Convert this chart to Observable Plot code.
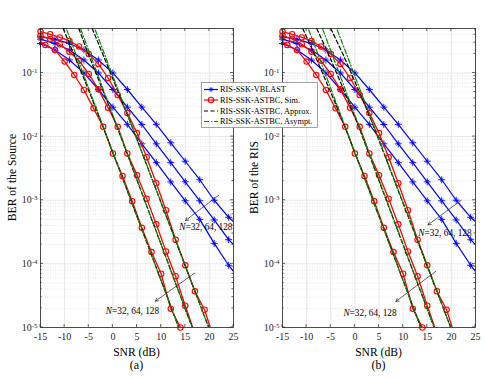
<!DOCTYPE html>
<html><head><meta charset="utf-8">
<script src="https://cdn.jsdelivr.net/npm/d3@7"></script>
<script src="https://cdn.jsdelivr.net/npm/@observablehq/plot@0.6"></script>
<style>
body{margin:0;background:#fff;}
#wrap{position:relative;width:485px;height:379px;font-family:"Liberation Serif","Times New Roman",serif;}
#wrap > svg{position:absolute;top:0;}
</style></head><body><div id="wrap"></div>
<script>
// ---- data (SNR in dB, BER) ----
const xTicks = [-15,-10,-5,0,5,10,15,20,25];
const yTicks = [1e-5,1e-4,1e-3,1e-2,1e-1];
const minorY = [2e-5,3e-5,4e-5,5e-5,6e-5,7e-5,8e-5,9e-5,2e-4,3e-4,4e-4,5e-4,6e-4,7e-4,8e-4,9e-4,2e-3,3e-3,4e-3,5e-3,6e-3,7e-3,8e-3,9e-3,2e-2,3e-2,4e-2,5e-2,6e-2,7e-2,8e-2,9e-2,0.2,0.3,0.4];

const snrBlue = [-15,-12,-9,-6,-3,0,3,6,9,12,15,18,21,24,25];
const vblastN32  = [0.37,0.34,0.29,0.23,0.16,0.10,0.055,0.029,0.0156,0.0080,0.0041,0.0021,0.0010,0.00054,0.00046];
const vblastN64  = [0.34,0.29,0.23,0.16,0.10,0.055,0.029,0.0155,0.0077,0.0039,0.00195,0.00098,0.00049,0.00024,0.00020];
const vblastN128 = [0.29,0.23,0.16,0.10,0.055,0.029,0.0156,0.0077,0.0039,0.00194,0.00098,0.00050,0.00021,0.000095,0.000076];

const snrSimN128 = [-15,-14,-12,-10,-8,-6,-4,-2,0,2,4,6,8,10,12,14];
const simN128 = [0.308,0.276,0.230,0.151,0.093,0.054,0.0278,0.01426,0.00543,0.00241,0.000964,0.000371,0.000153,0.000070,0.0000197,0.0000100];
const snrSimN64 = [-15,-13,-11,-9,-7,-5,-3,-1,1,3,5,7,9,11,13,15,17];
const simN64 = [0.386,0.343,0.283,0.216,0.155,0.0965,0.0553,0.0285,0.01426,0.00543,0.00248,0.00106,0.000419,0.000157,0.000064,0.000022,0.000008];
const snrSimN32 = [-15,-13,-11,-9,-7,-5,-3,-1,1,3,5,7,9,11,13,15,17,19,21];
const simN32 = [0.447,0.406,0.362,0.319,0.261,0.199,0.139,0.0834,0.0451,0.0234,0.01135,0.00475,0.00185,0.000697,0.00024,0.000095,0.000037,0.000019,0.0000065];

// asymptotic (straight lines)
const snrAsyN128 = [-10.3,14], asyN128 = [0.67,8.55e-6];
const snrAsyN64  = [-7.4,17],  asyN64  = [0.69,7.7e-6];
const snrAsyN32  = [-4.4,20],  asyN32  = [0.67,9.4e-6];

// approximation, source panel
const snrAppSrcN128 = [-10.3,-8,-6,-4,-2,0,14], appSrcN128 = [0.5,0.19,0.082,0.034,0.0140,0.00563,8.55e-6];
const snrAppSrcN64  = [-7.06,-5,-3,-1,1,17],    appSrcN64  = [0.5,0.19,0.080,0.033,0.0134,7.7e-6];
const snrAppSrcN32  = [-4.28,-2,0,2,4,20],      appSrcN32  = [0.5,0.19,0.081,0.034,0.0142,9.4e-6];
// approximation, RIS panel
const snrAppRisN128 = [-10.8,-8.5,-6.5,-4.5,-2.5,0,14], appRisN128 = [0.5,0.206,0.0914,0.0405,0.0172,0.00565,8.55e-6];
const snrAppRisN64  = [-7.9,-5.5,-3.5,-1.5,0.5,17],     appRisN64  = [0.5,0.201,0.0885,0.039,0.0164,7.7e-6];
const snrAppRisN32  = [-5.0,-2.5,-0.5,1.5,3.5,20],      appRisN32  = [0.5,0.20,0.0897,0.0402,0.0172,9.4e-6];

// annotations (SNR, BER)
const arrowsSrc = [{x1:21.95,y1:1.2e-3,x2:15.05,y2:4.8e-4},{x1:16.98,y1:7.2e-5,x2:8.83,y2:2.6e-5}];
const arrowsRis = [{x1:22.05,y1:1.0e-3,x2:15.16,y2:4.1e-4},{x1:16.75,y1:7.6e-5,x2:8.5,y2:2.57e-5}];
const labelEndSrc = [{x:24.8,y:3.8e-4}], labelMidSrc = [{x:4.07,y:1.8e-5}];
const labelEndRis = [{x:24.2,y:3.05e-4}], labelMidRis = [{x:3.14,y:1.7e-5}];
const annotText = "N=32, 64, 128";

const legendItems = ["RIS-SSK-VBLAST","RIS-SSK-ASTBC, Sim.","RIS-SSK-ASTBC, Approx.","RIS-SSK-ASTBC, Asympt."];

// ---- helpers ----
const rows = (xs, ys, n) => xs.map((x,i)=>({snr:x, ber:ys[i], n}));
const FONT = '"Liberation Serif","Times New Roman",serif';
const BLUE="#0000ff", RED="#ff0000", GREEN="#008a00";

const blueRows = [...rows(snrBlue,vblastN32,32),...rows(snrBlue,vblastN64,64),...rows(snrBlue,vblastN128,128)];
const simRows = [...rows(snrSimN32,simN32,32),...rows(snrSimN64,simN64,64),...rows(snrSimN128,simN128,128)];
const asyRows = [...rows(snrAsyN32,asyN32,32),...rows(snrAsyN64,asyN64,64),...rows(snrAsyN128,asyN128,128)];
const appSrcRows = [...rows(snrAppSrcN32,appSrcN32,32),...rows(snrAppSrcN64,appSrcN64,64),...rows(snrAppSrcN128,appSrcN128,128)];
const appRisRows = [...rows(snrAppRisN32,appRisN32,32),...rows(snrAppRisN64,appRisN64,64),...rows(snrAppRisN128,appRisN128,128)];

function panel({appRows, arrows, labEnd, labMid, ylab, caption, width}) {
  const svg = Plot.plot({
    width, height: 379,
    marginLeft: 40, marginRight: width - 233, marginTop: 28, marginBottom: 52,
    style: {fontFamily: FONT, fontSize: "10px", color: "#262626", background: "transparent"},
    x: {domain: [-15,25], label: null},
    y: {type: "log", domain: [1e-5,0.5], label: null},
    marks: [
      Plot.ruleY(minorY, {stroke:"#d4d4d4", strokeWidth:0.6, strokeDasharray:"1,1.5"}),
      Plot.ruleY(yTicks, {stroke:"#e2e2e2", strokeWidth:0.8}),
      Plot.ruleX(xTicks, {stroke:"#e2e2e2", strokeWidth:0.8}),
      Plot.line(blueRows, {x:"snr", y:"ber", z:"n", stroke:BLUE, strokeWidth:1.2, clip:true}),
      Plot.dot(blueRows.filter(d=>d.snr!==25), {x:"snr", y:"ber", symbol:"plus", r:2.4, stroke:BLUE, strokeWidth:0.9}),
      Plot.dot(blueRows.filter(d=>d.snr!==25), {x:"snr", y:"ber", symbol:"times", r:1.7, stroke:BLUE, strokeWidth:0.9}),
      Plot.line(simRows, {x:"snr", y:"ber", z:"n", stroke:RED, strokeWidth:1.3, clip:true}),
      Plot.dot(simRows.filter(d=>d.ber>=0.99e-5 && !(d.n===128 && d.snr===-15)), {x:"snr", y:"ber", r:2.7, stroke:RED, fill:"none", strokeWidth:1.1}),
      Plot.line(appRows, {x:"snr", y:"ber", z:"n", stroke:"#000", strokeWidth:1.2, strokeDasharray:"4,2.5", clip:true}),
      Plot.line(asyRows, {x:"snr", y:"ber", z:"n", stroke:GREEN, strokeWidth:1.2, strokeDasharray:"5,2,1.2,2", clip:true}),
      Plot.arrow(arrows, {x1:"x1", y1:"y1", x2:"x2", y2:"y2", stroke:"#222", strokeWidth:0.7, headLength:7}),
      Plot.text(labEnd, {x:"x", y:"y", text:()=>annotText, textAnchor:"end", fontSize:9.3, fill:"#000"}),
      Plot.text(labMid, {x:"x", y:"y", text:()=>annotText, textAnchor:"middle", fontSize:9.3, fill:"#000"}),
      Plot.frame({stroke:"#262626", strokeWidth:0.8}),
      Plot.axisX({ticks:xTicks, tickSize:0, tickPadding:5, tickFormat:d=>String(d), label:null, fontSize:10}),
      Plot.axisY({ticks:yTicks, tickSize:0, tickPadding:3, tickFormat:d=>String(Math.round(Math.log10(d))), label:null, fontSize:10})
    ]
  });
  const s = d3.select(svg);
  // superscript exponents
  s.selectAll('g[aria-label="y-axis tick label"] text').each(function(){
    const t = this.textContent; this.textContent = "";
    const el = d3.select(this);
    el.append("tspan").text("10");
    el.append("tspan").attr("dy","-0.45em").attr("font-size","7px").text(t);
  });
  // italic N in annotations
  s.selectAll("text").each(function(){
    if (this.textContent === annotText) {
      this.textContent = "";
      const el = d3.select(this);
      el.append("tspan").attr("font-style","italic").text("N");
      el.append("tspan").text(annotText.slice(1));
    }
  });
  // inward tick marks (MATLAB style box ticks), positioned through the plot's scales
  const sx = svg.scale("x"), sy = svg.scale("y");
  const X = v => sx.apply(v), Y = v => sy.apply(v);
  const [x0, x1] = [X(-15), X(25)], [yb, yt] = [Y(1e-5), Y(0.5)];
  const tg = s.append("g").attr("stroke","#262626").attr("stroke-width",0.7).attr("fill","none");
  xTicks.forEach(v => {
    tg.append("line").attr("x1",X(v)).attr("x2",X(v)).attr("y1",yb).attr("y2",yb-3);
    tg.append("line").attr("x1",X(v)).attr("x2",X(v)).attr("y1",yt).attr("y2",yt+3);
  });
  yTicks.forEach(v => {
    tg.append("line").attr("x1",x0).attr("x2",x0+3).attr("y1",Y(v)).attr("y2",Y(v));
    tg.append("line").attr("x1",x1).attr("x2",x1-3).attr("y1",Y(v)).attr("y2",Y(v));
  });
  minorY.forEach(v => {
    tg.append("line").attr("x1",x0).attr("x2",x0+1.6).attr("y1",Y(v)).attr("y2",Y(v));
    tg.append("line").attr("x1",x1).attr("x2",x1-1.6).attr("y1",Y(v)).attr("y2",Y(v));
  });
  // axis titles & caption
  s.append("text").attr("x",136.5).attr("y",356).attr("text-anchor","middle").attr("font-size","11.6px").attr("font-family",FONT).attr("fill","#000").text("SNR (dB)");
  s.append("text").attr("x",136.5).attr("y",368.5).attr("text-anchor","middle").attr("font-size","12px").attr("font-family",FONT).attr("fill","#000").text(caption);
  s.append("text").attr("transform","translate(15.5,177.5) rotate(-90)").attr("text-anchor","middle").attr("font-size","11.6px").attr("font-family",FONT).attr("fill","#000").text(ylab);
  return svg;
}

const wrap = document.getElementById("wrap");
const left = panel({appRows: appSrcRows, arrows: arrowsSrc, labEnd: labelEndSrc, labMid: labelMidSrc, ylab: "BER of the Source", caption: "(a)", width: 242});
const right = panel({appRows: appRisRows, arrows: arrowsRis, labEnd: labelEndRis, labMid: labelMidRis, ylab: "BER of the RIS", caption: "(b)", width: 243});
left.style.left = "0px"; right.style.left = "242px";
wrap.appendChild(left); wrap.appendChild(right);

// legend
const lg = d3.select(wrap).append("svg").attr("width",117).attr("height",46)
  .style("position","absolute").style("left","201px").style("top","82px");
lg.append("rect").attr("x",0.5).attr("y",0.5).attr("width",116).attr("height",45).attr("fill","#fff").attr("stroke","#8c8c8c").attr("stroke-width",0.8);
const rowY = [7.5,18,29,39.5];
const styles = [
  {stroke:BLUE, dash:null},
  {stroke:RED, dash:null},
  {stroke:"#000", dash:"4,2.5"},
  {stroke:GREEN, dash:"5,2,1.2,2"}
];
legendItems.forEach((t,i)=>{
  const y = rowY[i];
  const l = lg.append("line").attr("x1",3).attr("x2",17).attr("y1",y).attr("y2",y).attr("stroke",styles[i].stroke).attr("stroke-width",1.2);
  if (styles[i].dash) l.attr("stroke-dasharray",styles[i].dash);
  if (i===0) {
    lg.append("path").attr("d",`M7.6,${y}h4.8M10,${y-2.4}v4.8M8.3,${y-1.7}l3.4,3.4M11.7,${y-1.7}l-3.4,3.4`).attr("stroke",BLUE).attr("stroke-width",0.9);
  }
  if (i===1) lg.append("circle").attr("cx",10).attr("cy",y).attr("r",2.7).attr("fill","none").attr("stroke",RED).attr("stroke-width",1.1);
  lg.append("text").attr("x",19).attr("y",y).attr("dy","0.33em").attr("font-family",FONT).attr("font-size","8.3px").attr("fill","#000").text(t);
});
</script>
</body></html>
